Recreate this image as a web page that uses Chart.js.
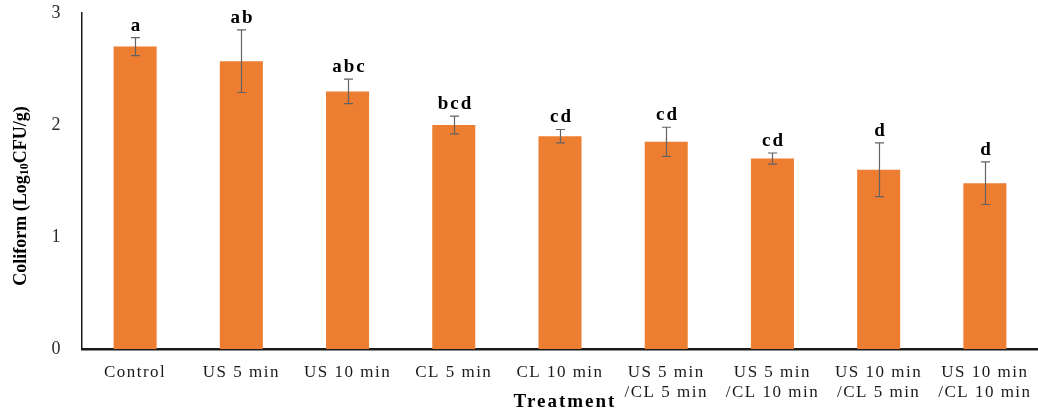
<!DOCTYPE html>
<html>
<head>
<meta charset="utf-8">
<script src="https://cdn.jsdelivr.net/npm/chart.js@4"></script>
<style>
  html, body { margin: 0; padding: 0; background: #fff; }
  #wrap { width: 1038px; height: 412px; }
</style>
</head>
<body>
<div id="wrap"><canvas id="coliformChart"></canvas></div>
<script>
const treatments = [
  'Control', 'US 5 min', 'US 10 min', 'CL 5 min', 'CL 10 min',
  ['US 5 min', '/CL 5 min'], ['US 5 min', '/CL 10 min'],
  ['US 10 min', '/CL 5 min'], ['US 10 min', '/CL 10 min']
];
const coliform = [2.70, 2.57, 2.30, 2.00, 1.90, 1.85, 1.70, 1.60, 1.48];
const coliformSd = [0.08, 0.28, 0.11, 0.08, 0.06, 0.13, 0.05, 0.24, 0.19];
const groupLetters = ['a', 'ab', 'abc', 'bcd', 'cd', 'cd', 'cd', 'd', 'd'];
const yTicks = [0, 1, 2, 3];

const SERIF = '"Liberation Serif", "Times New Roman", serif';

// the source image is a bit stretched sideways, spacing fakes that
const spacingPlugin = {
  id: 'spacing',
  beforeUpdate(chart) { chart.ctx.letterSpacing = '1.5px'; },
  beforeDraw(chart) { chart.ctx.letterSpacing = '1.5px'; }
};

const extrasPlugin = {
  id: 'extras',
  afterDatasetsDraw(chart) {
    const ctx = chart.ctx;
    const y = chart.scales.y;
    const meta = chart.getDatasetMeta(0);
    ctx.save();
    // error bars
    ctx.strokeStyle = '#636363';
    ctx.lineWidth = 1.2;
    meta.data.forEach((bar, i) => {
      const cx = Math.round(bar.x) + 0.5;
      const top = y.getPixelForValue(coliform[i] + coliformSd[i]);
      const bot = y.getPixelForValue(coliform[i] - coliformSd[i]);
      ctx.beginPath();
      ctx.moveTo(cx, top); ctx.lineTo(cx, bot);
      ctx.moveTo(cx - 4.5, top); ctx.lineTo(cx + 4.5, top);
      ctx.moveTo(cx - 4.5, bot); ctx.lineTo(cx + 4.5, bot);
      ctx.stroke();
      // letters
      ctx.letterSpacing = '2px';
      ctx.fillStyle = '#000';
      ctx.font = 'bold 19px ' + SERIF;
      ctx.textAlign = 'center';
      ctx.textBaseline = 'alphabetic';
      ctx.fillText(groupLetters[i], cx + 1, top - 7);
    });
    ctx.restore();
  },
  afterDraw(chart) {
    const ctx = chart.ctx;
    ctx.save();
    // x title
    ctx.letterSpacing = '2px';
    ctx.fillStyle = '#000';
    ctx.font = 'bold 19px ' + SERIF;
    ctx.textAlign = 'center';
    ctx.textBaseline = 'middle';
    ctx.fillText('Treatment', 565, 402);
    // y title with subscript
    ctx.letterSpacing = '0px';
    ctx.translate(21, 196);
    ctx.rotate(-Math.PI / 2);
    ctx.textAlign = 'left';
    ctx.textBaseline = 'middle';
    const big = 'bold 18px ' + SERIF, small = 'bold 12px ' + SERIF;
    const parts = [['Coliform (Log', big, 0], ['10', small, 4], ['CFU/g)', big, 0]];
    let total = 0;
    parts.forEach(p => { ctx.font = p[1]; total += ctx.measureText(p[0]).width; });
    let px = -total / 2;
    parts.forEach(p => {
      ctx.font = p[1];
      ctx.fillText(p[0], px, p[2]);
      px += ctx.measureText(p[0]).width;
    });
    ctx.restore();
  }
};

new Chart(document.getElementById('coliformChart'), {
  type: 'bar',
  data: {
    labels: treatments,
    datasets: [{
      data: coliform,
      backgroundColor: '#ED7D31',
      borderWidth: 0,
      barPercentage: 0.405,
      categoryPercentage: 1
    }]
  },
  options: {
    responsive: true,
    maintainAspectRatio: false,
    animation: false,
    layout: { padding: { top: 13, right: 0, left: 0, bottom: 0 } },
    plugins: { legend: { display: false }, tooltip: { enabled: false } },
    scales: {
      x: {
        grid: { display: false },
        border: { color: '#1a1a1a', width: 2.5 },
        ticks: { color: '#1a1a1a', font: { family: SERIF, size: 17 }, padding: 5, maxRotation: 0, autoSkip: false },
        afterFit(scale) { scale.height = 63; scale.paddingLeft = 0; scale.paddingRight = 0; }
      },
      y: {
        min: 0,
        max: 3,
        grid: { display: false },
        border: { color: '#1a1a1a', width: 1.5 },
        afterBuildTicks(scale) { scale.ticks = yTicks.map(v => ({ value: v })); },
        ticks: { color: '#2a2a2a', font: { family: SERIF, size: 18 }, padding: 12 },
        afterFit(scale) { scale.width = 82; scale.paddingTop = 0; scale.paddingBottom = 0; }
      }
    }
  },
  plugins: [spacingPlugin, extrasPlugin]
});
</script>
</body>
</html>
